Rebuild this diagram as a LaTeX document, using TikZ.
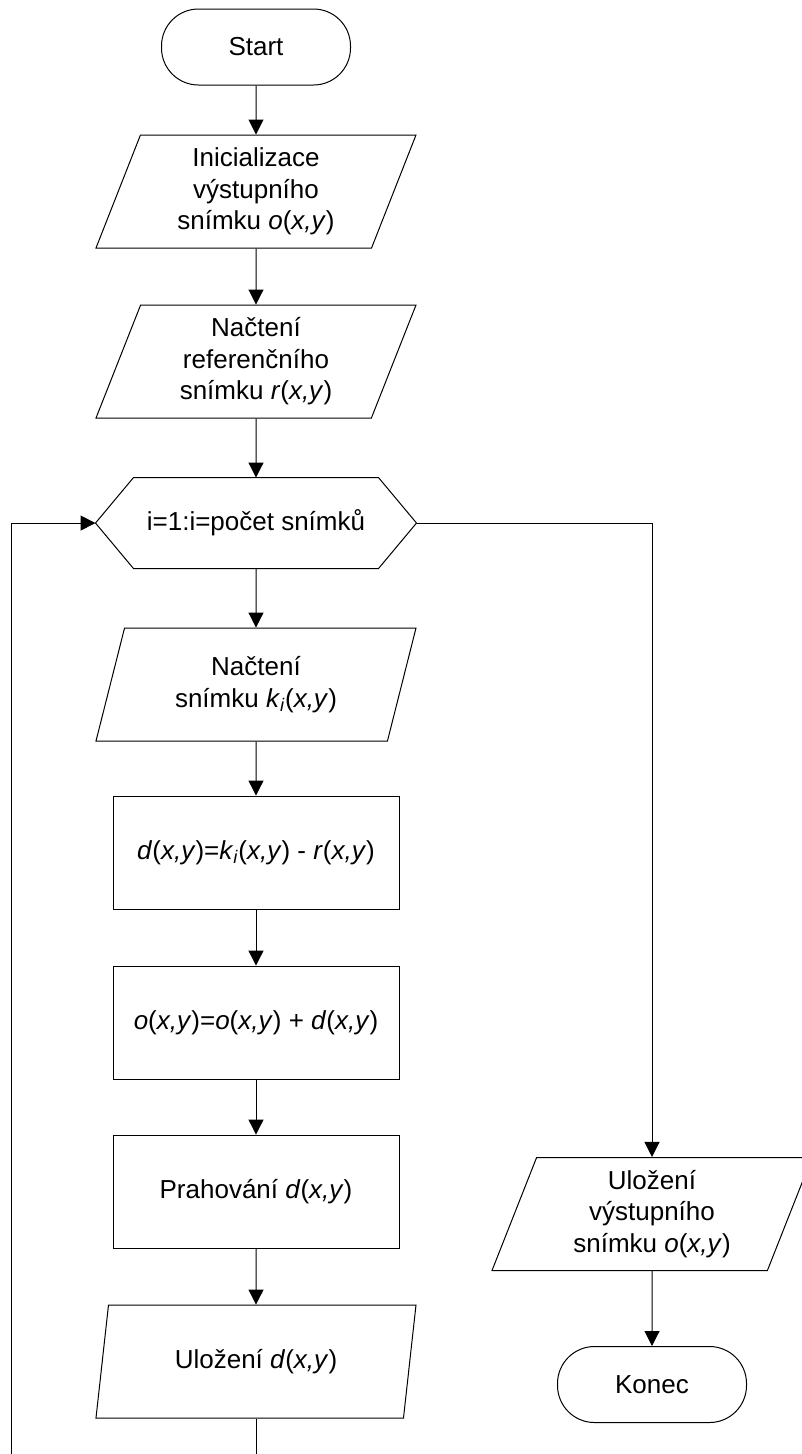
\documentclass[tikz,border=0pt]{standalone}
\usepackage{fontspec}
\setmainfont{Liberation Sans}
\usetikzlibrary{positioning,arrows.meta,shapes.geometric}
\newcommand{\xy}{(\textit{x,y})}
\newcommand{\ki}{\textit{k}\textsubscript{\textit{i}}}
\tikzset{
  term/.style={draw,rounded corners=37pt,minimum width=189pt,minimum height=76pt,inner sep=0pt},
  iobox/.style={draw,trapezium,trapezium left angle=63,trapezium right angle=117,
    trapezium stretches body,minimum width=320pt,minimum height=113pt,align=center,inner sep=0pt},
  procbox/.style={draw,minimum width=286pt,minimum height=113pt,align=center,inner sep=0pt},
  hexbox/.style={minimum width=320pt,minimum height=90pt,inner sep=0pt},
  arr/.style={-{Triangle[length=15pt,width=15pt]},line width=1pt},
  every node/.style={font=\fontsize{26}{31.5}\selectfont,line width=1pt}
}
\begin{document}
\begin{tikzpicture}[x=1pt,y=-1pt,node distance=56pt]
\useasboundingbox (0,0) rectangle (802,1454);
\node[term] (start) at (256,47) {Start};
\node[iobox, below=49pt of start] (init) {Inicializace\\výstupního\\snímku \textit{o}\xy};
\node[iobox, below=of init] (loadref) {Načtení\\referenčního\\snímku \textit{r}\xy};
\node[hexbox, below=59pt of loadref] (loop) {i=1:i=počet snímků};
\draw[line width=1pt] (loop.west) -- ([xshift=38pt]loop.north west) -- ([xshift=-38pt]loop.north east)
  -- (loop.east) -- ([xshift=-38pt]loop.south east) -- ([xshift=38pt]loop.south west) -- cycle;
\node[iobox, below=59pt of loop] (loadk) {Načtení\\snímku \ki\xy};
\node[procbox, below=54pt of loadk] (diff) {\textit{d}\xy=\ki\xy\ -\ \textit{r}\xy};
\node[procbox, below=of diff] (accum) {\textit{o}\xy=\textit{o}\xy\ +\ \textit{d}\xy};
\node[procbox, below=55pt of accum] (thresh) {Prahování \textit{d}\xy};
\node[iobox, below=of thresh] (saved) {Uložení \textit{d}\xy};

\node[iobox] (saveo) at (652,1214) {Uložení\\výstupního\\snímku \textit{o}\xy};
\node[term, below=75pt of saveo] (stop) {Konec};

\coordinate (loopend) at (256,1470);
\coordinate (loopturn) at (11,1470);

\draw[arr] (start) -- (init);
\draw[arr] (init) -- (loadref);
\draw[arr] (loadref) -- (loop);
\draw[arr] (loop) -- (loadk);
\draw[arr] (loadk) -- (diff);
\draw[arr] (diff) -- (accum);
\draw[arr] (accum) -- (thresh);
\draw[arr] (thresh) -- (saved);
\draw[arr] (saved.south) -- (loopend) -- (loopturn) |- (loop.west);
\draw[arr] (loop.east) -| (saveo.north);
\draw[arr] (saveo) -- (stop);
\end{tikzpicture}
\end{document}
